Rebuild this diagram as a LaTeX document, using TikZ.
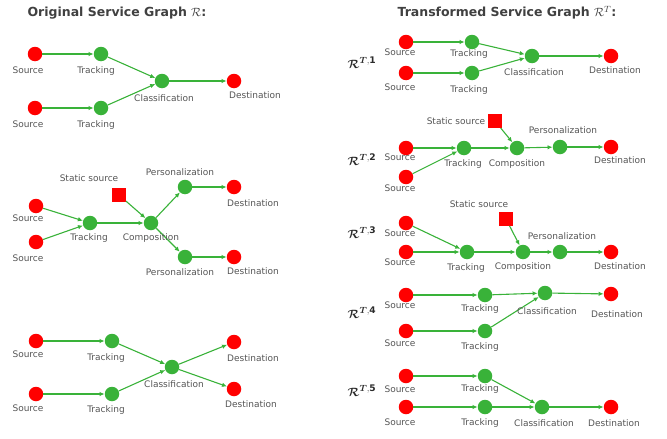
\documentclass[tikz,border=0pt]{standalone}
\usepackage{fontspec}
\usepackage{amsmath}
\setmainfont{DejaVu Sans}
\usetikzlibrary{arrows.meta}

\definecolor{fgreen}{RGB}{57,178,57}
\definecolor{fred}{RGB}{255,0,0}
\definecolor{ftext}{RGB}{85,85,85}

\tikzset{
  src/.style={circle,fill=fred,minimum size=14.5pt,inner sep=0pt},
  fn/.style={circle,fill=fgreen,minimum size=14.5pt,inner sep=0pt},
  stat/.style={rectangle,fill=fred,minimum size=13.5pt,inner sep=0pt},
  txt/.style={text=ftext,font=\fontsize{9}{10}\selectfont,inner sep=0pt,
    text height=6.8pt,text depth=1.8pt},
  ttl/.style={text=ftext!75!black,font=\fontsize{12.5}{14}\selectfont\bfseries,inner sep=0pt},
  glabel/.style={text=ftext!50!black,font=\fontsize{13}{14}\selectfont,inner sep=0pt},
  flow/.style={draw=fgreen,line width=1.1pt,-{Latex[length=5pt,width=4.5pt]}},
}

\begin{document}
\begin{tikzpicture}[x=1pt,y=-1pt]
  \useasboundingbox (0,0) rectangle (667,439);
  % titles
  \node[ttl] (ttlA) at (117,13) {Original Service Graph $\mathcal{R}$:};
  \node[ttl] (ttlB) at (507,13) {Transformed Service Graph $\mathcal{R}^{T}$:};

  % ---- original graph, part 1
  \node[src] (aS1) at (35,54) {};
  \node[src] (aS2) at (35,108) {};
  \node[fn] (aT1) at (101,54) {};
  \node[fn] (aT2) at (101,108) {};
  \node[fn] (aC) at (162,81) {};
  \node[src] (aD) at (234,81) {};
  \draw[flow] (aS1) -- (aT1);
  \draw[flow] (aS2) -- (aT2);
  \draw[flow] (aT1) -- (aC);
  \draw[flow] (aT2) -- (aC);
  \draw[flow] (aC) -- (aD);
  \node[txt] (aS1l) at (28,71) {Source};
  \node[txt] (aS2l) at (28,125) {Source};
  \node[txt] (aT1l) at (96,71) {Tracking};
  \node[txt] (aT2l) at (96,125) {Tracking};
  \node[txt] (aCl) at (164,99) {Classification};
  \node[txt] (aDl) at (255,96) {Destination};

  % ---- original graph, part 2
  \node[src] (bS1) at (36,206) {};
  \node[src] (bS2) at (36,242) {};
  \node[fn] (bT) at (90,223) {};
  \node[stat] (bQ) at (119,195) {};
  \node[fn] (bC) at (151,223) {};
  \node[fn] (bP1) at (185,187) {};
  \node[fn] (bP2) at (185,257) {};
  \node[src] (bD1) at (234,187) {};
  \node[src] (bD2) at (234,257) {};
  \draw[flow] (bS1) -- (bT);
  \draw[flow] (bS2) -- (bT);
  \draw[flow] (bT) -- (bC);
  \draw[flow] (bQ) -- (bC);
  \draw[flow] (bC) -- (bP1);
  \draw[flow] (bC) -- (bP2);
  \draw[flow] (bP1) -- (bD1);
  \draw[flow] (bP2) -- (bD2);
  \node[txt] (bQl) at (89,179) {Static source};
  \node[txt] (bS1l) at (28,219) {Source};
  \node[txt] (bS2l) at (28,259) {Source};
  \node[txt] (bTl) at (89,238) {Tracking};
  \node[txt] (bCl) at (151,238) {Composition};
  \node[txt] (bP1l) at (180,173) {Personalization};
  \node[txt] (bP2l) at (180,273) {Personalization};
  \node[txt] (bD1l) at (253,204) {Destination};
  \node[txt] (bD2l) at (253,272) {Destination};

  % ---- original graph, part 3
  \node[src] (cS1) at (36,341) {};
  \node[src] (cS2) at (36,394) {};
  \node[fn] (cT1) at (112,341) {};
  \node[fn] (cT2) at (112,394) {};
  \node[fn] (cC) at (172,367) {};
  \node[src] (cD1) at (234,342) {};
  \node[src] (cD2) at (234,389) {};
  \draw[flow] (cS1) -- (cT1);
  \draw[flow] (cS2) -- (cT2);
  \draw[flow] (cT1) -- (cC);
  \draw[flow] (cT2) -- (cC);
  \draw[flow] (cC) -- (cD1);
  \draw[flow] (cC) -- (cD2);
  \node[txt] (cS1l) at (28,355) {Source};
  \node[txt] (cS2l) at (28,409) {Source};
  \node[txt] (cT1l) at (106,358) {Tracking};
  \node[txt] (cT2l) at (106,410) {Tracking};
  \node[txt] (cCl) at (174,385) {Classification};
  \node[txt] (cD1l) at (253,359) {Destination};
  \node[txt] (cD2l) at (251,405) {Destination};

  % ---- transformed graph 1
  \node[glabel] (g1) at (362,63) {$\boldsymbol{\mathcal{R}}^{\boldsymbol{T},\mathbf{1}}$};
  \node[src] (dS1) at (406,42) {};
  \node[src] (dS2) at (406,73) {};
  \node[fn] (dT1) at (472,42) {};
  \node[fn] (dT2) at (472,73) {};
  \node[fn] (dC) at (532,56) {};
  \node[src] (dD) at (611,56) {};
  \draw[flow] (dS1) -- (dT1);
  \draw[flow] (dS2) -- (dT2);
  \draw[flow] (dT1) -- (dC);
  \draw[flow] (dT2) -- (dC);
  \draw[flow] (dC) -- (dD);
  \node[txt] (dS1l) at (400,53) {Source};
  \node[txt] (dS2l) at (400,88) {Source};
  \node[txt] (dT1l) at (469,54) {Tracking};
  \node[txt] (dT2l) at (469,90) {Tracking};
  \node[txt] (dCl) at (534,73) {Classification};
  \node[txt] (dDl) at (615,71) {Destination};

  % ---- transformed graph 2
  \node[glabel] (g2) at (362,160) {$\boldsymbol{\mathcal{R}}^{\boldsymbol{T},\mathbf{2}}$};
  \node[src] (eS1) at (406,148) {};
  \node[src] (eS2) at (406,177) {};
  \node[fn] (eT) at (464,148) {};
  \node[stat] (eQ) at (495,121) {};
  \node[fn] (eC) at (517,148) {};
  \node[fn] (eP) at (560,147) {};
  \node[src] (eD) at (611,147) {};
  \draw[flow] (eS1) -- (eT);
  \draw[flow] (eS2) -- (eT);
  \draw[flow] (eT) -- (eC);
  \draw[flow] (eQ) -- (eC);
  \draw[flow] (eC) -- (eP);
  \draw[flow] (eP) -- (eD);
  \node[txt] (eQl) at (456,122) {Static source};
  \node[txt] (eS1l) at (400,158) {Source};
  \node[txt] (eS2l) at (400,189) {Source};
  \node[txt] (eTl) at (463,164) {Tracking};
  \node[txt] (eCl) at (517,164) {Composition};
  \node[txt] (ePl) at (563,131) {Personalization};
  \node[txt] (eDl) at (620,161) {Destination};

  % ---- transformed graph 3
  \node[glabel] (g3) at (362,233) {$\boldsymbol{\mathcal{R}}^{\boldsymbol{T},\mathbf{3}}$};
  \node[src] (fS1) at (406,223) {};
  \node[src] (fS2) at (406,252) {};
  \node[fn] (fT) at (467,252) {};
  \node[stat] (fQ) at (506,219) {};
  \node[fn] (fC) at (523,252) {};
  \node[fn] (fP) at (560,252) {};
  \node[src] (fD) at (611,252) {};
  \draw[flow] (fS1) -- (fT);
  \draw[flow] (fS2) -- (fT);
  \draw[flow] (fT) -- (fC);
  \draw[flow] (fQ) -- (fC);
  \draw[flow] (fC) -- (fP);
  \draw[flow] (fP) -- (fD);
  \node[txt] (fQl) at (479,205) {Static source};
  \node[txt] (fS1l) at (400,234) {Source};
  \node[txt] (fS2l) at (400,263) {Source};
  \node[txt] (fTl) at (466,268) {Tracking};
  \node[txt] (fCl) at (523,267) {Composition};
  \node[txt] (fPl) at (562,237) {Personalization};
  \node[txt] (fDl) at (620,267) {Destination};

  % ---- transformed graph 4
  \node[glabel] (g4) at (362,313) {$\boldsymbol{\mathcal{R}}^{\boldsymbol{T},\mathbf{4}}$};
  \node[src] (hS1) at (406,295) {};
  \node[src] (hS2) at (406,331) {};
  \node[fn] (hT1) at (485,295) {};
  \node[fn] (hT2) at (485,331) {};
  \node[fn] (hC) at (545,293) {};
  \node[src] (hD) at (611,294) {};
  \draw[flow] (hS1) -- (hT1);
  \draw[flow] (hS2) -- (hT2);
  \draw[flow] (hT1) -- (hC);
  \draw[flow] (hT2) -- (hC);
  \draw[flow] (hC) -- (hD);
  \node[txt] (hS1l) at (400,306) {Source};
  \node[txt] (hS2l) at (400,344) {Source};
  \node[txt] (hT1l) at (480,309) {Tracking};
  \node[txt] (hT2l) at (480,347) {Tracking};
  \node[txt] (hCl) at (547,312) {Classification};
  \node[txt] (hDl) at (617,315) {Destination};

  % ---- transformed graph 5
  \node[glabel] (g5) at (362,391) {$\boldsymbol{\mathcal{R}}^{\boldsymbol{T},\mathbf{5}}$};
  \node[src] (kS1) at (406,376) {};
  \node[src] (kS2) at (406,407) {};
  \node[fn] (kT1) at (485,376) {};
  \node[fn] (kT2) at (485,407) {};
  \node[fn] (kC) at (542,407) {};
  \node[src] (kD) at (611,407) {};
  \draw[flow] (kS1) -- (kT1);
  \draw[flow] (kS2) -- (kT2);
  \draw[flow] (kT1) -- (kC);
  \draw[flow] (kT2) -- (kC);
  \draw[flow] (kC) -- (kD);
  \node[txt] (kS1l) at (400,390) {Source};
  \node[txt] (kS2l) at (400,423) {Source};
  \node[txt] (kT1l) at (480,389) {Tracking};
  \node[txt] (kT2l) at (480,423) {Tracking};
  \node[txt] (kCl) at (544,424) {Classification};
  \node[txt] (kDl) at (614,424) {Destination};
\end{tikzpicture}
\end{document}
